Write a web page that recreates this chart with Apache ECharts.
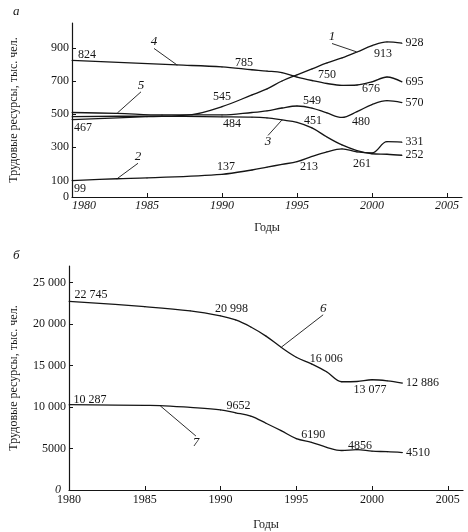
<!DOCTYPE html>
<html><head><meta charset="utf-8">
<script src="https://cdn.jsdelivr.net/npm/echarts@6/dist/echarts.min.js"></script>
<style>html,body{margin:0;padding:0;background:#fff}#c{width:468px;height:532px}</style>
</head><body><div id="c"></div>
<script>
// ===================== DATA =====================
const xTickYears = [1980, 1985, 1990, 1995, 2000, 2005];
const topYTicks = [0, 100, 300, 500, 700, 900];
const bottomYTicks = [0, 5000, 10000, 15000, 20000, 25000];

// Panel а (тыс. чел.)
const s1Years = [1980,1985,1988,1990,1992,1993,1994,1995,1996,1997,1998,1999,2000,2001,2002];
const s1Values = [467,485,497,545,616,652,700,737,773,809,839,875,913,936,928];
const s1Labeled = [1980,1990,2000,2002];

const s2Years = [1980,1983,1985,1990,1992,1993,1994,1995,1996,1997,1998,1999,2000,2001,2002];
const s2Values = [99,110,115,137,163,180,197,213,245,273,290,272,266,334,331];
const s2Labeled = [1980,1990,1995,2002];

const s3Years = [1980,1985,1990,1992,1993,1994,1995,1996,1997,1998,1999,2000,2001,2002];
const s3Values = [485,488,484,482,477,465,451,417,362,314,280,261,258,252];
const s3Labeled = [1990,1995,2000,2002];

const s4Years = [1980,1987,1990,1992,1993,1994,1995,1996,1997,1998,1999,2000,2001,2002];
const s4Values = [824,797,785,768,760,750,724,703,685,674,676,695,724,695];
const s4Labeled = [1980,1990,1994,1999,2002];

const s5Years = [1980,1983,1986,1990,1992,1993,1994,1995,1996,1997,1998,1999,2000,2001,2002];
const s5Values = [510,505,495,495,510,520,537,549,537,507,480,515,558,581,570];
const s5Labeled = [1995,1998,2002];

// Panel б (тыс. чел.)
const s6Years = [1980,1985,1988,1990,1991,1992,1993,1994,1995,1996,1997,1998,1999,2000,2001,2002];
const s6Values = [22745,22100,21600,20998,20500,19650,18550,17200,16006,15200,14250,13050,13077,13290,13160,12886];
const s6Labeled = [1980,1990,1995,1999,2002];

const s7Years = [1980,1985,1986,1988,1990,1991,1992,1993,1994,1995,1996,1997,1998,1999,2000,2001,2002];
const s7Values = [10287,10200,10180,9950,9652,9300,8900,8050,7150,6190,5750,5150,4760,4856,4680,4620,4510];
const s7Labeled = [1980,1990,1995,1999,2002];

// ===================== STYLE =====================
const FONT = 'Liberation Serif, DejaVu Serif, serif';
const INK = '#151515';
function fmt(v){ const s = String(Math.round(v)); return s.length > 4 ? s.slice(0, s.length-3) + ' ' + s.slice(-3) : s; }

// label displacements (px) for value labels, keyed by year; 'end' = right of last point
const labelOffsets = {
  '1': {1980:[11,8], 1990:[0,-10], 2000:[11,8], 2002:'end'},
  '2': {1980:[8,8], 1990:[4,-7], 1995:[12,5], 2002:'end'},
  '3': {1990:[10,7], 1995:[16,-1], 2000:[-10,10], 2002:'end'},
  '4': {1980:[15,-6], 1990:[22,-4], 1994:[45,2], 1999:[14,4], 2002:'end'},
  '5': {1995:[15,-5], 1998:[19,4], 2002:'end'},
  '6': {1980:[22,-6], 1990:[11,-7], 1995:[30,2], 1999:[13,8], 2002:'end'},
  '7': {1980:[21,-5], 1990:[18,-4], 1995:[17,-4], 1999:[3,-4], 2002:'end'}
};
// curve-number callouts: anchor year and label displacement
const callouts = {
  '1': {year:1999, dx:-25, dy:-15},
  '2': {year:1983, dx:21, dy:-22},
  '3': {year:1994, dx:-14, dy:22},
  '4': {year:1987, dx:-23, dy:-23},
  '5': {year:1983, dx:24, dy:-28},
  '6': {year:1994, dx:42, dy:-39},
  '7': {year:1986, dx:36, dy:37}
};

function makeSeries(name, years, values, labeled, gridIdx){
  const offs = labelOffsets[name];
  const co = callouts[name];
  const moves = {};
  const data = years.map(function(y, i){
    const item = {value: [y, values[i]]};
    if (labeled.indexOf(y) >= 0) {
      const o = offs[y];
      if (o === 'end') {
        item.label = {show:true, position:'right', distance:3, formatter: fmt(values[i])};
      } else {
        item.label = {show:true, position:'inside', formatter: fmt(values[i])};
        moves[i] = {dx:o[0], dy:o[1]};
      }
    } else if (co && co.year === y) {
      item.label = {show:true, position:'inside', formatter: name,
        fontStyle:'italic', fontSize:13};
      item.labelLine = {show:true, lineStyle:{color:INK, width:0.9}};
      moves[i] = {dx:co.dx, dy:co.dy};
    }
    return item;
  });
  return {
    name: name, type: 'line', xAxisIndex: gridIdx, yAxisIndex: gridIdx,
    data: data, smooth: 0.35, showSymbol: true, symbol: 'circle', symbolSize: 1,
    itemStyle: {color: INK}, lineStyle: {color: INK, width: 1.3},
    label: {show:false, color: INK, fontFamily: FONT, fontSize: 12},
    labelLine: {show:false},
    labelLayout: function(p){ return moves[p.dataIndex] || {}; },
    emphasis: {disabled: true},
    z: 3
  };
}

const xAxisCommon = {
  type:'value', min:1980, max:2006,
  axisLine:{show:true, lineStyle:{color:INK, width:1.2}},
  axisTick:{show:true, inside:true, length:4, customValues:xTickYears, lineStyle:{color:INK}},
  splitLine:{show:false},
  nameLocation:'middle',
  nameTextStyle:{color:INK, fontFamily:FONT, fontSize:12}
};
const yAxisCommon = {
  type:'value', min:0,
  axisLine:{show:true, lineStyle:{color:INK, width:1.2}},
  axisTick:{show:true, inside:true, length:4, lineStyle:{color:INK}},
  splitLine:{show:false},
  nameLocation:'middle',
  nameTextStyle:{color:INK, fontFamily:FONT, fontSize:12}
};
const plain = function(v){ return String(v); };

const option = {
  animation: false,
  backgroundColor: '#fff',
  textStyle: {fontFamily: FONT},
  title: [
    {text:'а', left:8, top:0, textStyle:{fontFamily:FONT, fontStyle:'italic', fontWeight:'normal', fontSize:13, color:INK}},
    {text:'б', left:8, top:244, textStyle:{fontFamily:FONT, fontStyle:'italic', fontWeight:'normal', fontSize:13, color:INK}}
  ],
  grid: [
    {left:72, right:6, top:23, bottom:335, containLabel:false},
    {left:69, right:5, top:266, bottom:42, containLabel:false}
  ],
  xAxis: [
    Object.assign({}, xAxisCommon, {gridIndex:0, name:'Годы', nameGap:25,
      axisLabel:{customValues:xTickYears, formatter:plain, color:INK, fontFamily:FONT, fontSize:12, fontStyle:'italic', margin:3, alignMinLabel:'left'}}),
    Object.assign({}, xAxisCommon, {gridIndex:1, name:'Годы', nameGap:29,
      axisLabel:{customValues:xTickYears, formatter:plain, color:INK, fontFamily:FONT, fontSize:12, margin:4}})
  ],
  yAxis: [
    Object.assign({}, yAxisCommon, {gridIndex:0, max:1050, name:'Трудовые ресурсы, тыс. чел.', nameGap:52,
      axisTick:Object.assign({}, yAxisCommon.axisTick, {customValues:topYTicks}),
      axisLabel:{customValues:topYTicks, formatter:plain, color:INK, fontFamily:FONT, fontSize:12, margin:3}}),
    Object.assign({}, yAxisCommon, {gridIndex:1, max:27000, name:'Трудовые ресурсы, тыс. чел.', nameGap:49,
      axisTick:Object.assign({}, yAxisCommon.axisTick, {customValues:bottomYTicks}),
      axisLabel:{customValues:bottomYTicks, color:INK, fontFamily:FONT, fontSize:12, margin:3,
        formatter:function(v){ return v === 0 ? '{i|0}' : fmt(v); },
        rich:{i:{fontStyle:'italic', fontFamily:FONT, fontSize:12, color:INK, padding:[0,5,0,0]}}}})
  ],
  series: [
    makeSeries('1', s1Years, s1Values, s1Labeled, 0),
    makeSeries('2', s2Years, s2Values, s2Labeled, 0),
    makeSeries('3', s3Years, s3Values, s3Labeled, 0),
    makeSeries('4', s4Years, s4Values, s4Labeled, 0),
    makeSeries('5', s5Years, s5Values, s5Labeled, 0),
    makeSeries('6', s6Years, s6Values, s6Labeled, 1),
    makeSeries('7', s7Years, s7Values, s7Labeled, 1)
  ]
};
const chart = echarts.init(document.getElementById('c'), null, {renderer:'canvas'});
chart.setOption(option);
</script>
</body></html>
